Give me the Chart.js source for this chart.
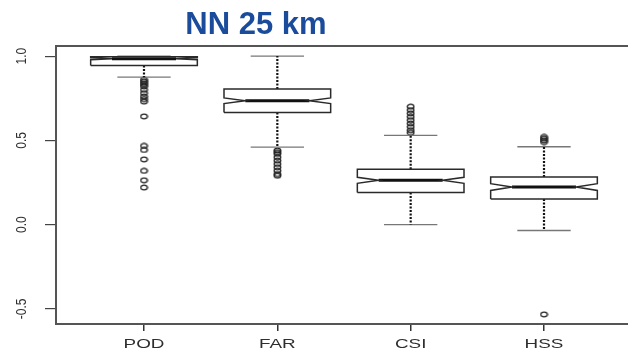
<!DOCTYPE html>
<html>
<head>
<meta charset="utf-8">
<script src="https://cdn.jsdelivr.net/npm/chart.js@4"></script>
<style>
html, body { margin: 0; padding: 0; background: #fff; overflow: hidden; }
#wrap { width: 640px; height: 351px; }
</style>
</head>
<body>
<div id="wrap"><canvas id="boxChart"></canvas></div>
<script>
// five-number summaries + notch limits per score
const categories = ["POD", "FAR", "CSI", "HSS"];
const lowerWhisker = [0.875, 0.46, 0.0, -0.035];
const q1 = [0.944, 0.665, 0.19, 0.152];
const medians = [0.984, 0.735, 0.263, 0.223];
const q3 = [0.996, 0.805, 0.329, 0.283];
const upperWhisker = [1.0, 1.0, 0.53, 0.462];
const notchLow = [0.978, 0.718, 0.245, 0.203];
const notchHigh = [0.99, 0.752, 0.281, 0.243];
const outliers = [
    [0.86, 0.85, 0.84, 0.83, 0.82, 0.80, 0.78, 0.76, 0.745, 0.73, 0.642, 0.467, 0.443, 0.387, 0.319, 0.263, 0.22],
    [0.44, 0.43, 0.42, 0.40, 0.38, 0.36, 0.34, 0.32, 0.30, 0.29],
    [0.70, 0.68, 0.66, 0.64, 0.62, 0.60, 0.58, 0.56, 0.545],
    [0.52, 0.51, 0.50, 0.49, -0.533]
];
const yTicks = [-0.5, 0.0, 0.5, 1.0];
const yTickLabels = ["-0.5", "0.0", "0.5", "1.0"];
const titleText = "NN 25 km";

const boxHalf = 0.4, notchFrac = 0.6, capHalf = 0.2;

// open ellipse used as the outlier marker
const ring = document.createElement("canvas");
ring.width = 9; ring.height = 7;
(function () {
    const c = ring.getContext("2d");
    c.strokeStyle = "#222";
    c.lineWidth = 1.3;
    c.beginPath();
    c.ellipse(4.5, 3.5, 3.3, 2.3, 0, 0, Math.PI * 2);
    c.stroke();
})();

function seg(points, style) {
    return Object.assign({
        type: "scatter", data: points, showLine: true, pointRadius: 0,
        fill: false, borderColor: "#2a2a2a", borderWidth: 1.5
    }, style || {});
}

const datasets = [];
categories.forEach((cat, i) => {
    const x = i + 1;
    const w = boxHalf, n = boxHalf * notchFrac;
    // notched box outline
    datasets.push(seg([
        { x: x - w, y: q1[i] }, { x: x + w, y: q1[i] }, { x: x + w, y: notchLow[i] },
        { x: x + n, y: medians[i] }, { x: x + w, y: notchHigh[i] }, { x: x + w, y: q3[i] },
        { x: x - w, y: q3[i] }, { x: x - w, y: notchHigh[i] }, { x: x - n, y: medians[i] },
        { x: x - w, y: notchLow[i] }, { x: x - w, y: q1[i] }
    ]));
    // median
    datasets.push(seg([{ x: x - n, y: medians[i] }, { x: x + n, y: medians[i] }],
        { borderColor: "#111", borderWidth: 3 }));
    // whiskers
    datasets.push(seg([{ x: x, y: q3[i] }, { x: x, y: upperWhisker[i] }],
        { borderColor: "#111", borderWidth: 2.2, borderDash: [2, 1.5] }));
    datasets.push(seg([{ x: x, y: q1[i] }, { x: x, y: lowerWhisker[i] }],
        { borderColor: "#111", borderWidth: 2.2, borderDash: [2, 1.5] }));
    // caps
    datasets.push(seg([{ x: x - capHalf, y: upperWhisker[i] }, { x: x + capHalf, y: upperWhisker[i] }],
        { borderColor: "#777", borderWidth: 1.3 }));
    datasets.push(seg([{ x: x - capHalf, y: lowerWhisker[i] }, { x: x + capHalf, y: lowerWhisker[i] }],
        { borderColor: "#777", borderWidth: 1.3 }));
    // outliers
    datasets.push({
        type: "scatter",
        data: outliers[i].map(v => ({ x: x, y: v })),
        pointStyle: ring, pointRadius: 3, showLine: false
    });
});

const frameAndText = {
    id: "frameAndText",
    afterDraw(chart) {
        const ctx = chart.ctx, a = chart.chartArea;
        const xs = chart.scales.x, ys = chart.scales.y;
        ctx.save();
        ctx.strokeStyle = "#555";
        ctx.lineWidth = 2;
        ctx.strokeRect(a.left, a.top, a.right - a.left, a.bottom - a.top);

        // title
        ctx.fillStyle = "#1b4b9b";
        ctx.font = "bold 31px 'Liberation Sans', Arial, sans-serif";
        ctx.textAlign = "center";
        ctx.textBaseline = "alphabetic";
        ctx.fillText(titleText, 256, 34);

        // category labels, drawn wide
        ctx.fillStyle = "#2e2e2e";
        ctx.font = "13px 'Liberation Sans', Arial, sans-serif";
        categories.forEach((c, i) => {
            ctx.save();
            ctx.translate(xs.getPixelForValue(i + 1), 348);
            ctx.scale(1.45, 1);
            ctx.fillText(c, 0, 0);
            ctx.restore();
        });

        // rotated y labels
        ctx.font = "12px 'Liberation Sans', Arial, sans-serif";
        ctx.textBaseline = "middle";
        yTicks.forEach((v, i) => {
            ctx.save();
            ctx.translate(22, ys.getPixelForValue(v));
            ctx.rotate(-Math.PI / 2);
            ctx.scale(1, 1.25);
            ctx.fillText(yTickLabels[i], 0, 0);
            ctx.restore();
        });
        ctx.restore();
    }
};

new Chart(document.getElementById("boxChart"), {
    type: "scatter",
    data: { datasets },
    options: {
        responsive: true,
        maintainAspectRatio: false,
        animation: false,
        layout: { padding: { top: 46, right: 8, left: 0, bottom: 0 } },
        plugins: { legend: { display: false }, tooltip: { enabled: false } },
        scales: {
            x: {
                type: "linear", min: 0.34, max: 4.66,
                afterBuildTicks: s => { s.ticks = categories.map((c, i) => ({ value: i + 1 })); },
                afterFit: s => { s.height = 27; },
                ticks: { display: false },
                border: { display: false },
                grid: { display: true, drawOnChartArea: false, drawTicks: true, tickLength: 7, color: "#333", lineWidth: 1.5 }
            },
            y: {
                type: "linear", min: -0.59, max: 1.06,
                afterBuildTicks: s => { s.ticks = yTicks.map(v => ({ value: v })); },
                afterFit: s => { s.width = 56; },
                ticks: { display: false },
                border: { display: false },
                grid: { display: true, drawOnChartArea: false, drawTicks: true, tickLength: 11, color: "#444", lineWidth: 1.2 }
            }
        }
    },
    plugins: [frameAndText]
});
</script>
</body>
</html>
